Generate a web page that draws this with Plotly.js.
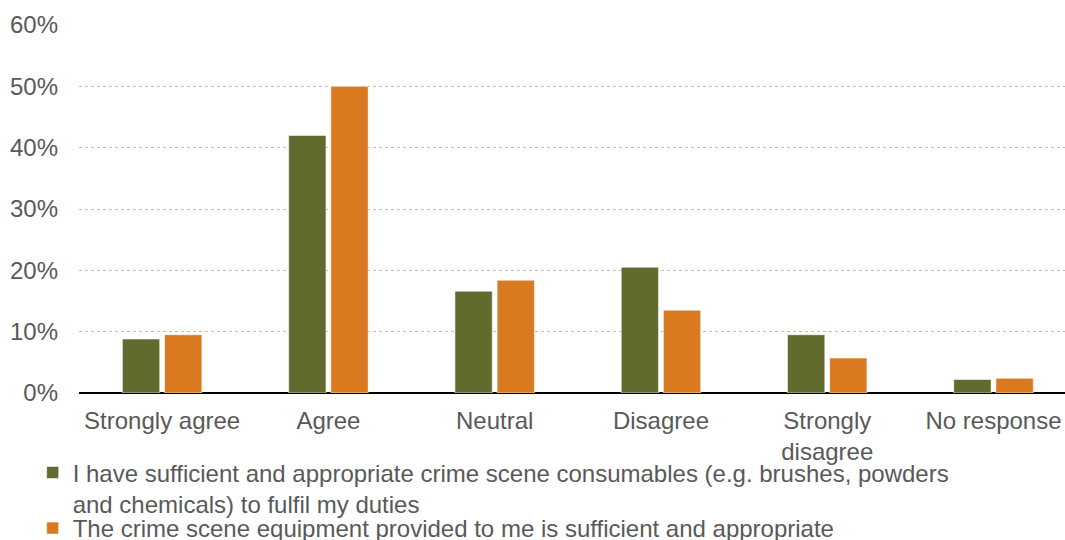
<!DOCTYPE html>
<html>
<head>
<meta charset="utf-8">
<script src="https://cdn.plot.ly/plotly-3.0.1.min.js"></script>
<style>
  html, body { margin: 0; padding: 0; background: #ffffff; overflow: hidden; }
  #chart { width: 1065px; height: 540px; }
</style>
</head>
<body>
<div id="chart"></div>
<script>
// Survey responses: share of respondents per answer (%)
const categories = ["Strongly agree", "Agree", "Neutral", "Disagree", "Strongly<br>disagree", "No response"];
const consumablesShare = [8.8, 42.0, 16.6, 20.5, 9.5, 2.2];
const equipmentShare = [9.5, 50.0, 18.4, 13.5, 5.7, 2.4];
const seriesNames = [
  "I have sufficient and appropriate crime scene consumables (e.g. brushes, powders<br>and chemicals) to fulfil my duties",
  "The crime scene equipment provided to me is sufficient and appropriate"
];
const yTicks = [0, 10, 20, 30, 40, 50, 60];

const textGrey = "#595959";
const fontFamily = "Arial, 'Liberation Sans', sans-serif";

const traces = [
  {
    type: "bar",
    name: seriesNames[0],
    legend: "legend",
    x: categories,
    y: consumablesShare,
    marker: { color: "#626A2E", line: { color: "rgba(255,255,255,0.55)", width: 1 } },
    hoverinfo: "x+y"
  },
  {
    type: "bar",
    name: seriesNames[1],
    legend: "legend2",
    x: categories,
    y: equipmentShare,
    marker: { color: "#D97A21", line: { color: "rgba(255,255,255,0.55)", width: 1 } },
    hoverinfo: "x+y"
  }
];

// Shared legend styling; each series gets its own legend box stacked below the axis
const legendBase = {
  orientation: "v",
  x: -0.047,
  xanchor: "left",
  yanchor: "top",
  valign: "top",
  font: { family: fontFamily, size: 24, color: textGrey },
  bgcolor: "rgba(0,0,0,0)",
  borderwidth: 0,
  itemclick: false
};

const layout = {
  width: 1065,
  height: 540,
  margin: { l: 79, r: 0, t: 25, b: 147, pad: 0, autoexpand: false },
  paper_bgcolor: "#ffffff",
  plot_bgcolor: "#ffffff",
  font: { family: fontFamily, size: 24, color: textGrey },
  barmode: "group",
  bargap: 0.493,
  bargroupgap: 0.115,
  showlegend: true,
  legend: Object.assign({}, legendBase, { y: -0.156 }),
  legend2: Object.assign({}, legendBase, { y: -0.307 }),
  xaxis: {
    type: "category",
    range: [-0.5, 5.43],
    showgrid: false,
    showline: false,
    zeroline: false,
    ticks: "",
    tickfont: { family: fontFamily, size: 24, color: textGrey },
    ticklabelstandoff: 11,
    fixedrange: true
  },
  yaxis: {
    range: [0, 60],
    tickvals: yTicks,
    ticktext: yTicks.map(v => v + "%"),
    showgrid: true,
    gridcolor: "#BDBDBD",
    griddash: "dot",
    gridwidth: 1,
    zeroline: true,
    zerolinecolor: "#000000",
    zerolinewidth: 2.5,
    showline: false,
    ticks: "",
    tickfont: { family: fontFamily, size: 24, color: textGrey },
    ticklabelstandoff: 20,
    fixedrange: true
  }
};

Plotly.newPlot("chart", traces, layout, { displayModeBar: false, staticPlot: true });
</script>
</body>
</html>
